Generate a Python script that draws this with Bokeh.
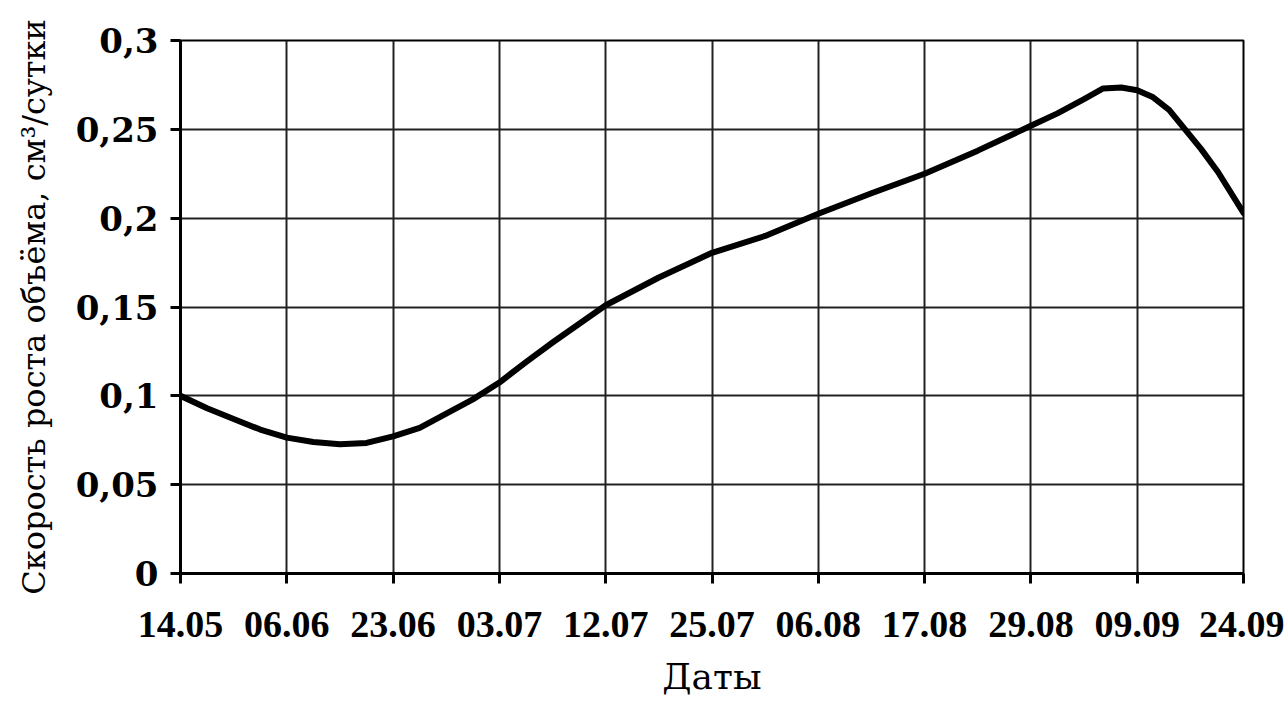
from bokeh.plotting import figure
from bokeh.models import Range1d, FixedTicker
from bokeh.embed import file_html
from bokeh.resources import INLINE

# tick labels (dates), equally spaced along x
dates = ['14.05', '06.06', '23.06', '03.07', '12.07', '25.07',
         '06.08', '17.08', '29.08', '09.09', '24.09']
y_ticks = [0, 0.05, 0.1, 0.15, 0.2, 0.25, 0.3]
y_labels = ['0', '0,05', '0,1', '0,15', '0,2', '0,25', '0,3']

# curve (x in date-index units)
pos = [0, 0.25, 0.5, 0.75, 1, 1.25, 1.5, 1.75, 2, 2.25, 2.5, 2.75, 3, 3.25,
       3.5, 4, 4.5, 5, 5.5, 6, 6.5, 7, 7.5, 8, 8.25, 8.5, 8.68, 8.85, 9,
       9.15, 9.3, 9.45, 9.6, 9.76, 10]
rate = [0.1, 0.093, 0.087, 0.081, 0.0765, 0.074, 0.0728, 0.0735, 0.0772,
        0.082, 0.09, 0.098, 0.1075, 0.119, 0.13, 0.151, 0.1666, 0.1805,
        0.19, 0.2025, 0.214, 0.225, 0.238, 0.252, 0.259, 0.267, 0.273,
        0.2735, 0.272, 0.268, 0.261, 0.25, 0.239, 0.226, 0.203]

p = figure(width=1284, height=704, output_backend="svg", toolbar_location=None,
           x_range=Range1d(0, 10), y_range=Range1d(0, 0.3))
p.min_border_left = 180
p.min_border_top = 40
p.min_border_bottom = 131
p.min_border_right = 41
p.outline_line_color = 'black'
p.outline_line_width = 2

p.xaxis.ticker = FixedTicker(ticks=list(range(len(dates))))
p.xaxis.major_label_overrides = {i: d for i, d in enumerate(dates)}
p.yaxis.ticker = FixedTicker(ticks=y_ticks)
p.yaxis.major_label_overrides = dict(zip(y_ticks, y_labels))
p.xaxis.minor_tick_line_color = None
p.yaxis.minor_tick_line_color = None

for ax in (p.xaxis, p.yaxis):
    ax.axis_line_width = 3
    ax.axis_line_color = 'black'
    ax.major_tick_line_width = 3
    ax.major_tick_line_color = 'black'
    ax.major_tick_out = 10
    ax.major_tick_in = 0
    ax.major_label_text_font_style = 'bold'
    ax.major_label_text_color = 'black'
    ax.axis_label_text_font = "DejaVu Serif"
    ax.axis_label_text_font_style = 'normal'
    ax.axis_label_text_color = 'black'

p.xaxis.major_label_text_font = "Liberation Serif"
p.xaxis.major_label_text_font_size = '38px'
p.xaxis.major_label_standoff = 28
p.xaxis.axis_label = 'Даты'
p.xaxis.axis_label_standoff = 16
p.xaxis.axis_label_text_font_size = '36px'

p.yaxis.major_label_text_font = "DejaVu Serif"
p.yaxis.major_label_text_font_size = '34px'
p.yaxis.major_label_standoff = 12
p.yaxis.axis_label = 'Скорость роста объёма, см³/сутки'
p.yaxis.axis_label_text_font_size = '32px'
p.yaxis.axis_label_standoff = 20

p.grid.grid_line_color = '#222222'
p.grid.grid_line_width = 2
p.grid.grid_line_alpha = 1.0
p.xgrid.ticker = p.xaxis.ticker
p.ygrid.ticker = p.yaxis.ticker

p.line(pos, rate, line_color='black', line_width=6, line_join='round', line_cap='round')

open("out.html", "w").write(file_html(p, INLINE))
